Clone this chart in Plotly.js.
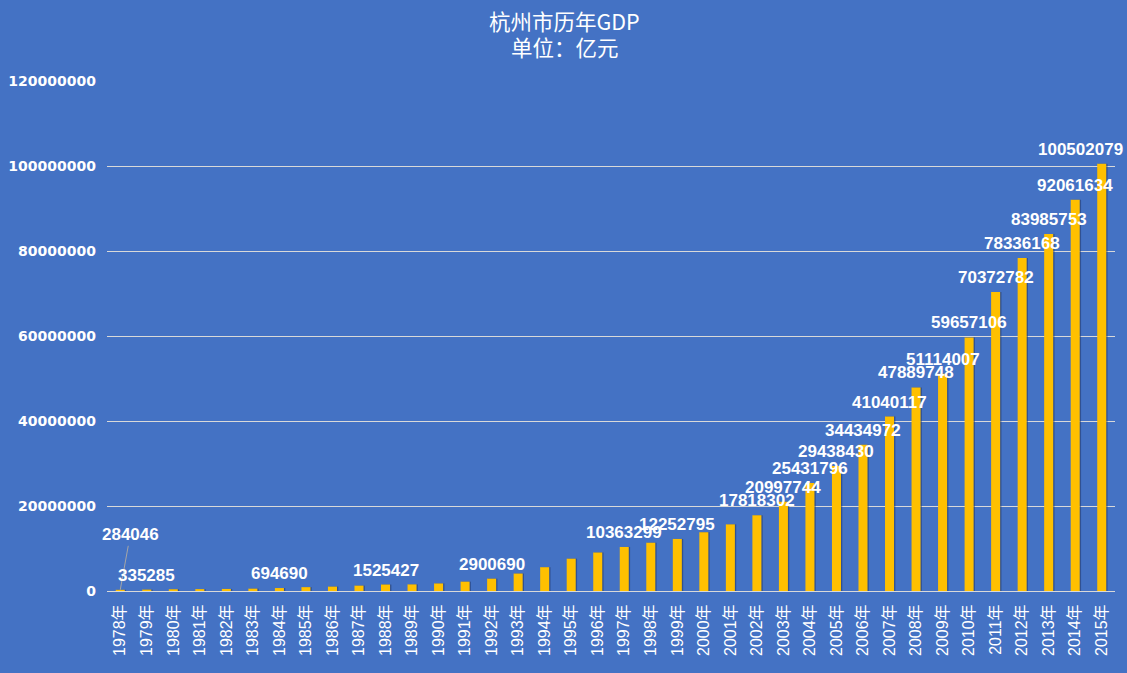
<!DOCTYPE html>
<html>
<head>
<meta charset="utf-8">
<script src="https://cdn.plot.ly/plotly-3.0.1.min.js"></script>
<style>html,body{margin:0;padding:0;background:#4472C4;}#chart{width:1127px;height:673px;}</style>
</head>
<body>
<div id="chart"></div>
<script>
// ---- data (GDP, 万元) ----
const years = [1978,1979,1980,1981,1982,1983,1984,1985,1986,1987,1988,1989,1990,1991,1992,1993,1994,1995,1996,1997,1998,1999,2000,2001,2002,2003,2004,2005,2006,2007,2008,2009,2010,2011,2012,2013,2014,2015];
const categories = years.map(y => y + '年');
const gdp = [284046,335285,411000,445000,487000,556000,694690,911000,1033000,1267000,1525427,1555000,1780000,2200000,2900690,4109000,5603000,7606000,9060000,10363299,11359000,12252795,13826000,15680000,17818302,20997744,25431796,29438430,34434972,41040117,47889748,51114007,59657106,70372782,78336168,83985753,92061634,100502079];
const labeledYears = [1978,1979,1984,1988,1992,1997,1999,2002,2003,2004,2005,2006,2007,2008,2009,2010,2011,2012,2013,2014,2015];
const yTicks = [0,20000000,40000000,60000000,80000000,100000000,120000000];
const titleLines = ['杭州市历年GDP', '单位：亿元'];

const barColor = '#FFC000';
const bgColor = '#4472C4';
const labelFont = {family: 'Liberation Sans, Arial, sans-serif', size: 17, color: '#FFFFFF', weight: 'bold'};
const titleFont = {family: 'Noto Sans CJK SC, sans-serif', size: 21.5, color: '#FFFFFF'};

const shadow = {
  type: 'bar', x: categories, y: gdp,
  marker: {color: 'rgba(35,55,105,0.55)', line: {width: 0}},
  width: 0.36, offset: -0.14,
  hoverinfo: 'skip', showlegend: false
};
const bars = {
  type: 'bar', x: categories, y: gdp,
  marker: {color: barColor, line: {width: 0}},
  width: 0.34, offset: -0.17,
  showlegend: false
};

const lastYear = years[years.length - 1];
const annotations = labeledYears.map(yr => {
  const i = years.indexOf(yr);
  if (yr === years[0]) {
    return {x: categories[i], y: gdp[i], xref: 'x', yref: 'y', text: String(gdp[i]),
      font: labelFont, showarrow: true, arrowhead: 0, arrowwidth: 1, arrowcolor: '#A6A6A6',
      ax: 10, ay: -55, standoff: 0};
  }
  const a = {x: categories[i], y: gdp[i], xref: 'x', yref: 'y', text: String(gdp[i]),
    font: labelFont, showarrow: false, yanchor: 'bottom', yshift: 3};
  if (yr === lastYear) { a.xanchor = 'right'; a.xshift = 23; }
  return a;
});
annotations.push({xref: 'paper', yref: 'paper', x: 0.454, y: 1.1196, yanchor: 'middle', xanchor: 'center',
  text: titleLines[0], showarrow: false, font: titleFont});
annotations.push({xref: 'paper', yref: 'paper', x: 0.454, y: 1.0686, yanchor: 'middle', xanchor: 'center',
  text: titleLines[1], showarrow: false, font: titleFont});

const layout = {
  width: 1127, height: 673,
  paper_bgcolor: bgColor, plot_bgcolor: bgColor,
  margin: {l: 107, r: 12, t: 81, b: 82},
  barmode: 'overlay',
  xaxis: {
    type: 'category', tickangle: -90, range: [-0.5, years.length - 0.5],
    tickfont: {family: 'Liberation Sans, Noto Sans CJK SC, sans-serif', size: 16, color: '#FFFFFF'},
    showgrid: false, showline: true, linecolor: '#D9D9D9', linewidth: 1,
    ticks: '', ticklabelstandoff: 6, fixedrange: true
  },
  yaxis: {
    range: [0, 120000000], tickvals: yTicks, tickformat: 'd',
    tickfont: {family: 'DejaVu Sans, sans-serif', size: 14, color: '#FFFFFF', weight: 'bold'},
    showgrid: true, gridcolor: '#D9D9D9', gridwidth: 1,
    zeroline: true, zerolinecolor: '#D9D9D9', zerolinewidth: 1,
    showline: false, ticks: '', ticklabelstandoff: 10, fixedrange: true
  },
  annotations: annotations
};

Plotly.newPlot('chart', [shadow, bars], layout, {displayModeBar: false, staticPlot: true});
</script>
</body>
</html>
